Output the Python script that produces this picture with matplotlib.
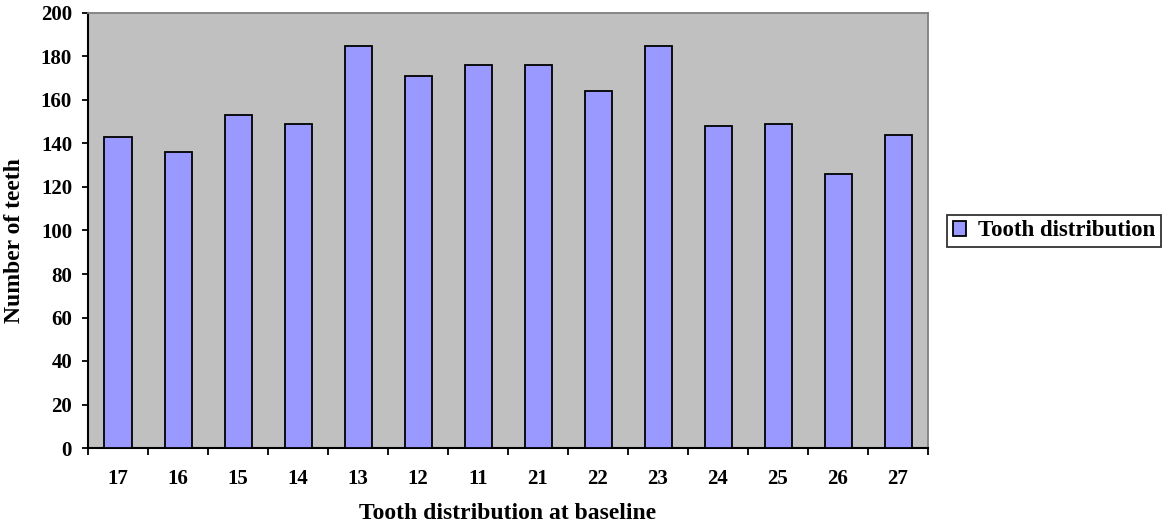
import numpy as np
import matplotlib.pyplot as plt

# tooth numbers (FDI) and counts at baseline
teeth = ["17", "16", "15", "14", "13", "12", "11", "21", "22", "23", "24", "25", "26", "27"]
counts = [143, 136, 153, 149, 185, 171, 176, 176, 164, 185, 148, 149, 126, 144]
y_ticks = [0, 20, 40, 60, 80, 100, 120, 140, 160, 180, 200]

plt.rcParams["font.family"] = ["Liberation Serif", "DejaVu Serif"]
plt.rcParams["font.weight"] = "bold"

fig = plt.figure(figsize=(11.71, 5.31), dpi=100)
ax = fig.add_axes([88 / 1171, 83 / 531, 840 / 1171, 435 / 531])
ax.set_facecolor("#C0C0C0")

x = np.arange(len(teeth))
ax.bar(x, counts, width=0.45, color="#9999FF", edgecolor="black", linewidth=1.3,
       label="Tooth distribution", zorder=3)

ax.set_xlim(-0.5, len(teeth) - 0.5)
ax.set_ylim(0, 200)
ax.set_yticks(y_ticks)
ax.set_yticklabels([str(v) for v in y_ticks], fontsize=15, fontweight="bold")

# labels at bar centres, tick marks at category boundaries
ax.set_xticks(x)
ax.set_xticklabels(teeth, fontsize=15, fontweight="bold")
ax.tick_params(axis="x", which="major", length=0, pad=15)
ax.set_xticks(np.arange(len(teeth) + 1) - 0.5, minor=True)
ax.tick_params(axis="x", which="minor", length=5, width=1.3, direction="out")
ax.tick_params(axis="y", length=4, width=1.3, direction="out", pad=7.5)

for s in ["left", "bottom"]:
    ax.spines[s].set_color("black")
    ax.spines[s].set_linewidth(1.5)
for s in ["top", "right"]:
    ax.spines[s].set_color("#808080")
    ax.spines[s].set_linewidth(1.3)

ax.set_xlabel("Tooth distribution at baseline", fontsize=17, fontweight="bold", labelpad=10)
ax.set_ylabel("Number of teeth", fontsize=17, fontweight="bold")
ax.yaxis.set_label_coords(-0.075, 0.476)

leg = fig.legend(loc="center left", bbox_to_anchor=(947 / 1171, 1 - 231 / 531),
                 fontsize=16.5, frameon=True, fancybox=False, edgecolor="black",
                 handlelength=0.6, handleheight=0.6, handletextpad=0.5,
                 borderpad=0.25, borderaxespad=0)
leg.get_frame().set_linewidth(1.3)
for t in leg.get_texts():
    t.set_fontweight("bold")

fig.savefig("out.png", dpi=100, facecolor="white")
